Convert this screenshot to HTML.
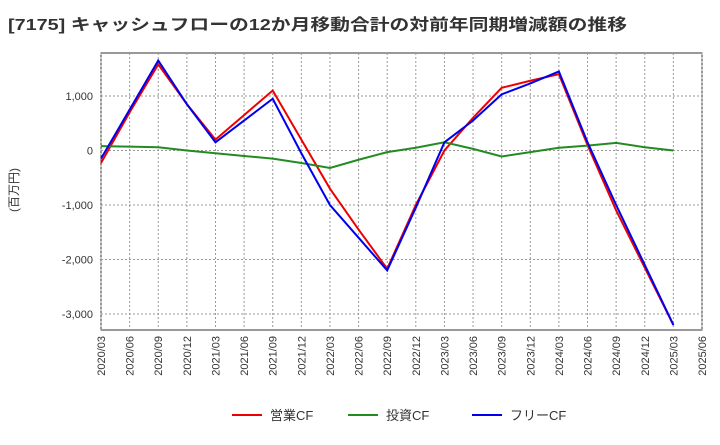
<!DOCTYPE html>
<html><head><meta charset="utf-8"><style>
body{margin:0;background:#fff;font-family:"Liberation Sans","Noto Sans CJK JP",sans-serif;}
</style></head><body>
<svg id="chart" width="720" height="440" xmlns="http://www.w3.org/2000/svg" style="font-family:'Liberation Sans','Noto Sans CJK JP',sans-serif">
<text x="8" y="30" font-size="16" font-weight="bold" fill="#333" textLength="619" lengthAdjust="spacingAndGlyphs">[7175]  キャッシュフローの12か月移動合計の対前年同期増減額の推移</text>
<text transform="translate(18,190) rotate(-90)" text-anchor="middle" font-size="12" fill="#333">(百万円)</text>
<g id="grid"></g><g id="axes"></g><g id="series"></g><g id="legend"></g>
</svg>
<script>
const categories=["2020/03","2020/06","2020/09","2020/12","2021/03","2021/06","2021/09","2021/12","2022/03","2022/06","2022/09","2022/12","2023/03","2023/06","2023/09","2023/12","2024/03","2024/06","2024/09","2024/12","2025/03","2025/06"];
const operatingCF=[-230,700,1580,850,200,650,1100,200,-700,-1450,-2170,-1000,0,600,1150,1280,1400,100,-1100,-2150,-3200];
const investingCF=[80,70,60,0,-50,-100,-150,-230,-320,-170,-30,50,150,30,-110,-30,50,90,140,60,0];
const freeCF=[-150,750,1650,850,150,550,950,-50,-1000,-1600,-2200,-1050,150,550,1030,1230,1450,150,-1000,-2100,-3200];
const yTicks=[1000,0,-1000,-2000,-3000];
const yTickLabels=["1,000","0","-1,000","-2,000","-3,000"];
const seriesNames=["営業CF","投資CF","フリーCF"];
const NS="http://www.w3.org/2000/svg";
const L=101,R=702,T=53,B=330;
const xs=i=>L+i*(R-L)/(categories.length-1);
const ys=v=>150.5-v*0.0545;
function mk(tag,attrs,parent){const e=document.createElementNS(NS,tag);for(const k in attrs)e.setAttribute(k,attrs[k]);document.getElementById(parent).appendChild(e);return e;}
const bg=mk('rect',{x:L,y:T,width:R-L,height:B-T,fill:'#fff',stroke:'#333'},'grid');


categories.forEach((c,i)=>{
 const g=mk('line',{x1:xs(i),x2:xs(i),y1:T,y2:B,stroke:'#999','stroke-dasharray':'2,2'},'grid');
 
 
 const t=mk('text',{transform:`translate(${xs(i)+4},${B+6}) rotate(-90)`,'text-anchor':'end','font-size':'11',fill:'#333'},'axes');
 t.textContent=c;
 
 
});
yTicks.forEach((v,i)=>{
 const g=mk('line',{x1:L,x2:R,y1:ys(v),y2:ys(v),stroke:'#999','stroke-dasharray':'2,2'},'grid');
 
 
 const t=mk('text',{x:L-8,y:ys(v)+4,'text-anchor':'end','font-size':'11',fill:'#333'},'axes');
 t.textContent=yTickLabels[i];
 
 
});
const colors=['#e00','#228b22','#00e'];
[operatingCF,investingCF,freeCF].forEach((d,s)=>{
 const p=mk('polyline',{points:d.map((v,i)=>xs(i)+','+ys(v)).join(' '),fill:'none',stroke:colors[s],'stroke-width':'2'},'series');
 
 
});
const lx=[232,348,472];
seriesNames.forEach((n,s)=>{
 const l=mk('line',{x1:lx[s],x2:lx[s]+30,y1:415,y2:415,stroke:colors[s],'stroke-width':'2'},'legend');
 
 
 const t=mk('text',{x:lx[s]+38,y:420,'font-size':'13',fill:'#333'},'legend');
 t.textContent=n;
 
 
});
</script>
</body></html>
